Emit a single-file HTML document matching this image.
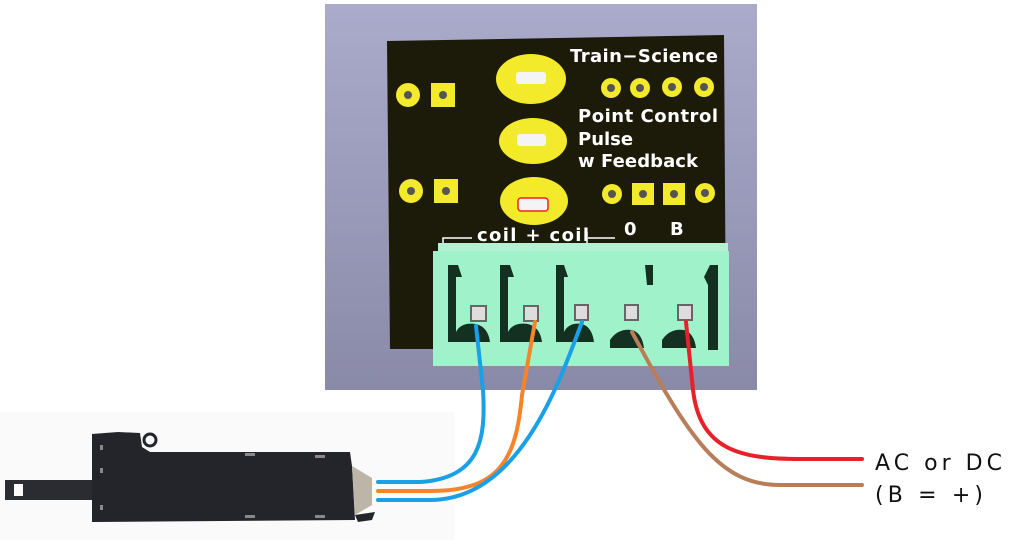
<!DOCTYPE html>
<html><head><meta charset="utf-8"><style>
html,body{margin:0;padding:0;background:#fff;width:1024px;height:558px;overflow:hidden}
svg{display:block}
</style></head><body>
<svg width="1024" height="558" viewBox="0 0 1024 558" xmlns="http://www.w3.org/2000/svg">
<defs>
<linearGradient id="bg" x1="0" y1="0" x2="0" y2="1">
<stop offset="0" stop-color="#aaaacb"/><stop offset="1" stop-color="#8a8aa8"/>
</linearGradient>
</defs>
<rect x="325" y="4" width="432" height="386" fill="url(#bg)"/>
<polygon points="387,41 724,35 726,349 390,349" fill="#1c1a08"/>
<g fill="#f2ea2a">
<circle cx="408" cy="95" r="12"/><rect x="431" y="83" width="24" height="24"/>
<circle cx="411" cy="191" r="12"/><rect x="434" y="179" width="24" height="24"/>
<circle cx="611" cy="88" r="10"/><circle cx="640" cy="88" r="10"/><circle cx="672" cy="87" r="10"/><circle cx="704" cy="87" r="10"/>
<circle cx="612" cy="194" r="10"/><rect x="632" y="183" width="22" height="22"/><rect x="663" y="183" width="22" height="22"/><circle cx="705" cy="193" r="10"/>
<ellipse cx="531" cy="79" rx="35" ry="25"/>
<ellipse cx="533" cy="141" rx="34" ry="23"/>
<ellipse cx="534" cy="201" rx="34" ry="24"/>
</g>
<g fill="#555">
<circle cx="408" cy="95" r="4"/><circle cx="443" cy="95" r="4"/>
<circle cx="411" cy="191" r="4"/><circle cx="446" cy="191" r="4"/>
<circle cx="611" cy="88" r="4"/><circle cx="640" cy="88" r="4"/><circle cx="672" cy="87" r="4"/><circle cx="704" cy="87" r="4"/>
<circle cx="612" cy="194" r="4"/><circle cx="643" cy="194" r="4"/><circle cx="674" cy="194" r="4"/><circle cx="705" cy="193" r="4"/>
</g>
<rect x="516" y="72" width="30" height="12" rx="3" fill="#f4f4f4"/>
<rect x="517" y="134" width="29" height="12" rx="3" fill="#f4f4f4"/>
<rect x="518" y="198" width="30" height="13" rx="3" fill="#f4f4f4" stroke="#e22" stroke-width="1.5"/>
<g fill="#fff" font-family="DejaVu Sans, Liberation Sans, sans-serif" font-size="18" font-weight="bold">
<text x="570" y="62" textLength="148">Train−Science</text>
<text x="578" y="122" textLength="140">Point Control</text>
<text x="578" y="145">Pulse</text>
<text x="578" y="167" textLength="120">w Feedback</text>
<text x="477" y="241" textLength="112">coil + coil</text>
<text x="624" y="235">0</text>
<text x="670" y="235">B</text>
</g>
<path d="M443,244 V238 H472 M588,238 H615 M587,232 V244" stroke="#fff" stroke-width="1.5" fill="none"/>
<rect x="438" y="243" width="290" height="8" fill="#b4f0d4"/>
<rect x="433" y="251" width="296" height="115" fill="#9ff2c9"/>
<g fill="#143020">
<path d="M448,265 h10 l4,12 h-6 v55 q5,-10 20,-8 q12,3 14,18 h-42 z"/>
<path d="M500,265 h10 l4,12 h-6 v55 q5,-10 20,-8 q12,3 14,18 h-42 z"/>
<path d="M556,265 h8 l4,12 h-4 v55 q5,-10 18,-8 q10,3 12,18 h-38 z"/>
<path d="M610,340 q8,-12 22,-10 q10,3 12,18 h-34 z"/>
<path d="M662,340 q8,-12 22,-10 q10,3 12,18 h-34 z"/>
<path d="M710,265 h8 v85 h-10 v-65 l-4,-8 z"/>
<path d="M645,265 h8 v20 h-6 z"/>
</g>
<g fill="#ddd" stroke="#666" stroke-width="2">
<rect x="471" y="306" width="15" height="15"/><rect x="524" y="306" width="14" height="15"/>
<rect x="575" y="305" width="13" height="15"/><rect x="625" y="305" width="13" height="15"/>
<rect x="678" y="305" width="14" height="15"/>
</g>
<rect x="0" y="412" width="455" height="128" fill="#fafafa"/>
<g fill="none" stroke-width="4" stroke-linecap="round">
<path d="M476,326 L483,390 C486,440 480,478 420,482 L378,482" stroke="#1aa0e6"/>
<path d="M535,322 L522,395 C516,460 500,491 430,491 L378,491" stroke="#f5842a"/>
<path d="M582,322 C560,380 520,500 430,500 L378,500" stroke="#1aa0e6"/>
<path d="M632,332 C690,440 720,485 780,485 L862,485" stroke="#b87e5a"/>
<path d="M686,322 L693,390 C700,450 740,459 800,459 L862,459" stroke="#e8202a"/>
</g>
<path d="M5,480 H95 V500 H5 z M14,484 v12 h9 v-12 z" fill="#2a2c32" fill-rule="evenodd"/>
<path d="M92,434 L118,432 L140,433 L142,447 L150,452 L350,452 L352,466 L355,520 L92,522 z" fill="#23252b"/>
<circle cx="150" cy="440" r="6" fill="none" stroke="#23252b" stroke-width="3"/>
<path d="M352,466 L372,478 L372,505 L355,515 z" fill="#bdb5a8"/>
<path d="M355,515 L375,512 L372,520 L358,522 z" fill="#23252b"/>
<g fill="#888">
<rect x="100" y="445" width="3" height="5"/><rect x="100" y="468" width="3" height="5"/><rect x="100" y="505" width="3" height="5"/>
<rect x="245" y="453" width="10" height="3"/><rect x="315" y="455" width="10" height="3"/>
<rect x="245" y="515" width="10" height="3"/><rect x="315" y="515" width="10" height="3"/>
</g>
<g font-family="DejaVu Sans, Liberation Sans, sans-serif" font-size="22" fill="#111">
<text x="875" y="470" textLength="127">AC or DC</text>
<text x="875" y="502" textLength="108">(B = +)</text>
</g>
</svg>
</body></html>
